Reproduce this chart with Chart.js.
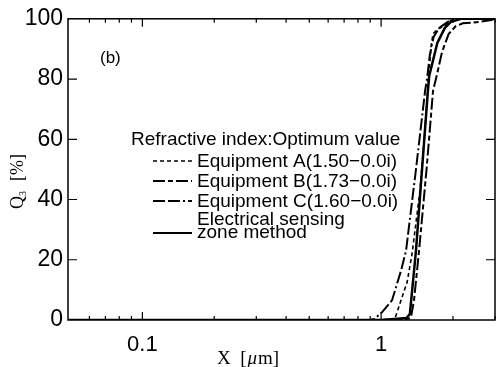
<!DOCTYPE html>
<html>
<head>
<meta charset="utf-8">
<script src="https://cdn.jsdelivr.net/npm/chart.js@4.4.0/dist/chart.umd.min.js"></script>
<style>
  html, body { margin: 0; padding: 0; background: #fff; }
  canvas { display: block; }
</style>
</head>
<body>
<canvas id="chart" width="496" height="367"></canvas>
<script>
// Particle size X (um) and cumulative Q3 (%)
const sizeA = [0.0488, 1.0, 1.14, 1.167, 1.224, 1.285, 1.348, 1.45, 1.52, 1.58, 1.62, 1.65, 1.72, 1.83, 1.96, 2.12, 3.0]
const q3A = [0, 0, 0.3, 2.6, 7.6, 12.5, 22, 42, 61, 80, 91, 95, 96.5, 97.5, 99.5, 100, 100]

const sizeB = [0.0488, 1.0, 1.30, 1.335, 1.374, 1.442, 1.55, 1.65, 1.72, 1.80, 1.92, 2.05, 2.2, 2.6, 2.9, 3.0]
const q3B = [0, 0, 0.4, 1, 6.6, 23, 50, 76, 82, 89, 95, 97.5, 98.5, 99, 99.6, 100]

const sizeC = [0.0488, 0.90, 0.935, 1.01, 1.112, 1.213, 1.272, 1.40, 1.528, 1.557, 1.60, 1.66, 1.75, 1.9, 2.1, 3.0]
const q3C = [0, 0, 0.3, 2.6, 6.6, 16.5, 23, 50, 76, 80, 88, 94, 97, 99, 100, 100]

const sizeESZ = [0.0488, 1.0, 1.28, 1.32, 1.40, 1.57, 1.59, 1.72, 1.85, 1.96, 2.16, 3.0]
const q3ESZ = [0, 0, 0.7, 2, 23, 76, 81, 92, 97, 99, 100, 100]

const seriesNames = ['Equipment A(1.50\u22120.0i)', 'Equipment B(1.73\u22120.0i)', 'Equipment C(1.60\u22120.0i)', 'Electrical sensing\nzone method']
const legendTitle = 'Refractive index:Optimum value'
const panelLabel = '(b)'

const xLabelTicks = [0.1, 1]
const xMinorTicks = [0.06, 0.07, 0.08, 0.09, 0.2, 0.3, 0.4, 0.5, 0.6, 0.7, 0.8, 0.9, 2, 3]
const yTicks = [20, 40, 60, 80]

const sansFont = '"Liberation Sans", Arial, Helvetica, sans-serif'
const serifFont = '"Liberation Serif", "Times New Roman", serif'

const toPoints = (xs, ys) => xs.map((x, i) => ({ x, y: ys[i] }))

const makeSet = (label, xs, ys, dash, width) => ({
  label,
  data: toPoints(xs, ys),
  showLine: true,
  borderColor: '#000',
  backgroundColor: '#000',
  borderWidth: width,
  borderDash: dash,
  pointRadius: 0,
  tension: 0
})

// Frame with inward ticks on all four sides
const framePlugin = {
  id: 'frame',
  afterDraw (chart) {
    const { ctx, chartArea: a, scales: { x, y } } = chart
    ctx.save()
    ctx.strokeStyle = '#000'
    ctx.setLineDash([])
    ctx.lineWidth = 1.5
    ctx.strokeRect(a.left, a.top, a.right - a.left, a.bottom - a.top)

    ctx.lineWidth = 1.2
    ctx.beginPath()
    xMinorTicks.forEach(v => {
      const px = x.getPixelForValue(v)
      ctx.moveTo(px, a.bottom); ctx.lineTo(px, a.bottom - 4)
      ctx.moveTo(px, a.top); ctx.lineTo(px, a.top + 4)
    })
    xLabelTicks.forEach(v => {
      const px = x.getPixelForValue(v)
      ctx.moveTo(px, a.bottom); ctx.lineTo(px, a.bottom - 8)
      ctx.moveTo(px, a.top); ctx.lineTo(px, a.top + 8)
    })
    yTicks.forEach(v => {
      const py = y.getPixelForValue(v)
      ctx.moveTo(a.left, py); ctx.lineTo(a.left + 9, py)
      ctx.moveTo(a.right, py); ctx.lineTo(a.right - 9, py)
    })
    ctx.stroke()
    ctx.restore()
  }
}

// Axis titles, panel label and the in-plot legend
const textPlugin = {
  id: 'texts',
  afterDraw (chart) {
    const ctx = chart.ctx
    const sets = chart.data.datasets
    ctx.save()
    ctx.fillStyle = '#000'
    ctx.textBaseline = 'alphabetic'

    // X title: X [μm] with italic mu
    let cx = 217
    ctx.font = '19px ' + serifFont
    ctx.fillText('X  [', cx, 364)
    cx += ctx.measureText('X  [').width + 1
    ctx.font = 'italic 19px ' + serifFont
    ctx.fillText('\u03bc', cx, 364)
    cx += ctx.measureText('\u03bc').width + 1
    ctx.font = '19px ' + serifFont
    ctx.fillText('m]', cx, 364)

    // Y title: Q3 [%] rotated
    ctx.save()
    ctx.translate(23, 209)
    ctx.rotate(-Math.PI / 2)
    ctx.font = '18px ' + serifFont
    ctx.fillText('Q', 0, 0)
    let ty = ctx.measureText('Q').width
    ctx.font = '10px ' + serifFont
    ctx.fillText('3', ty, 3)
    ty += ctx.measureText('3').width + 1
    ctx.font = '18px ' + serifFont
    ctx.fillText('  [%]', ty, 0)
    ctx.restore()

    // Panel label
    ctx.font = '17px ' + sansFont
    ctx.fillText(panelLabel, 100, 63)

    // Legend
    ctx.font = '19px ' + sansFont
    ctx.fillText(legendTitle, 131, 145)
    const rowLine = [161, 181, 201, 233]
    const rowText = [167, 187, 207, 225]
    sets.forEach((ds, i) => {
      ctx.save()
      ctx.strokeStyle = '#000'
      ctx.lineWidth = Math.min(ds.borderWidth, 2)
      ctx.setLineDash(ds.borderDash || [])
      ctx.beginPath()
      ctx.moveTo(153, rowLine[i])
      ctx.lineTo(192, rowLine[i])
      ctx.stroke()
      ctx.restore()
      seriesNames[i].split('\n').forEach((line, j) => {
        ctx.fillText(line, 197, rowText[i] + j * 13)
      })
    })
    ctx.restore()
  }
}

const chart = new Chart(document.getElementById('chart').getContext('2d'), {
  type: 'scatter',
  data: {
    datasets: [
      makeSet(seriesNames[0], sizeA, q3A, [4, 3], 1.6),
      makeSet(seriesNames[1], sizeB, q3B, [12, 3, 5, 3], 2),
      makeSet(seriesNames[2], sizeC, q3C, [12, 3, 12, 3, 2, 3], 2),
      makeSet(seriesNames[3], sizeESZ, q3ESZ, [], 2.5)
    ]
  },
  options: {
    responsive: false,
    animation: false,
    devicePixelRatio: 1,
    layout: { padding: { top: 17, right: 1, left: 0, bottom: 0 } },
    plugins: { legend: { display: false }, tooltip: { enabled: false } },
    scales: {
      x: {
        type: 'logarithmic',
        min: 0.0488,
        max: 3,
        grid: { display: false },
        border: { display: false },
        afterBuildTicks: s => { s.ticks = xLabelTicks.map(v => ({ value: v })) },
        afterFit: s => { s.height = 47 },
        ticks: {
          autoSkip: false,
          maxRotation: 0,
          padding: 4,
          color: '#000',
          font: { family: sansFont, size: 22 },
          callback: v => String(v)
        }
      },
      y: {
        min: 0,
        max: 100,
        grid: { display: false, drawTicks: false },
        border: { display: false },
        afterFit: s => { s.width = 68 },
        ticks: {
          stepSize: 20,
          padding: 5,
          color: '#000',
          font: { family: sansFont, size: 23 }
        }
      }
    }
  },
  plugins: [framePlugin, textPlugin]
})
</script>
</body>
</html>
